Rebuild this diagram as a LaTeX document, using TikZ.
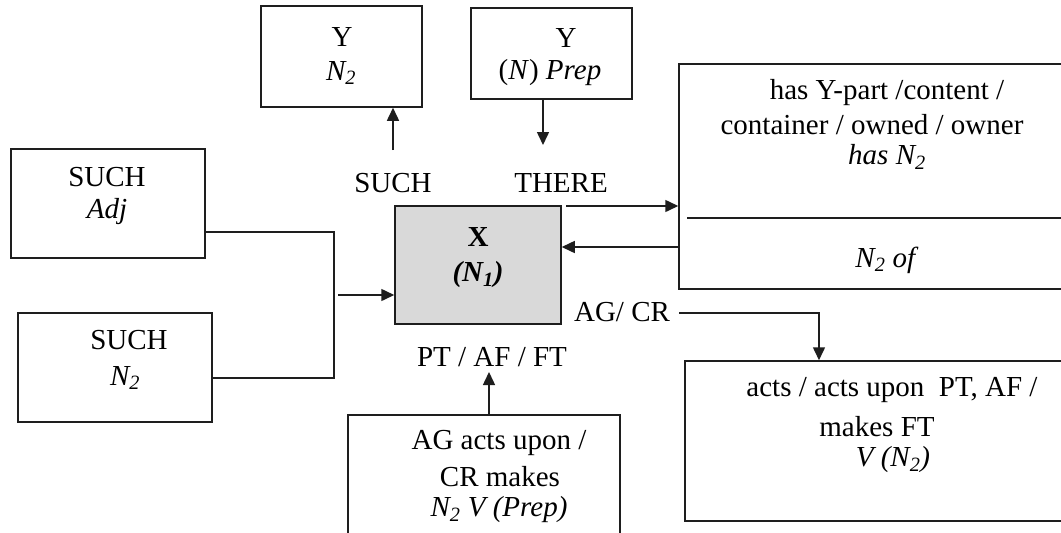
\documentclass[tikz,border=0pt]{standalone}
\usepackage{fontspec}
\setmainfont{Liberation Serif}
\usetikzlibrary{arrows.meta}
\definecolor{xgray}{RGB}{217,217,217}
\definecolor{ln}{RGB}{30,30,30}
\tikzset{
  box/.style={draw=ln, line width=1.5pt, rectangle, inner sep=0pt},
  txt/.style={inner sep=0pt, font=\fontsize{29}{33}\selectfont, text=black, anchor=center},
  arr/.style={draw=ln, line width=1.5pt, -{Triangle[length=13pt,width=12pt]}},
  ln/.style={draw=ln, line width=1.5pt}
}
\begin{document}
\begin{tikzpicture}[x=1pt,y=-1pt]
\useasboundingbox (0,0) rectangle (1061,533);
\clip (0,0) rectangle (1061,533);
\fill[white] (0,0) rectangle (1061,533);

% boxes
\node[box, minimum width=161pt, minimum height=101pt] (yn2box) at (341.5,56.5) {};
\node[box, minimum width=161pt, minimum height=91pt] (yprepbox) at (551.5,53.5) {};
\node[box, minimum width=391pt, minimum height=225pt] (rbox) at (874.5,176.5) {};
\node[box, fill=xgray, minimum width=166pt, minimum height=118pt] (xbox) at (478,265) {};
\node[box, minimum width=194pt, minimum height=109pt] (adjbox) at (108,203.5) {};
\node[box, minimum width=194pt, minimum height=109pt] (sn2box) at (115,367.5) {};
\node[box, minimum width=272pt, minimum height=130pt] (botbox) at (484,480) {};
\node[box, minimum width=385pt, minimum height=160pt] (brbox) at (877.5,441) {};

% divider in right box
\coordinate (dv1) at (687,218);
\draw[ln] (dv1) -- (dv1 -| rbox.east);

% texts
\node[txt] (t1) at (342,37) {Y};
\node[txt] (t2) at (341,73) {\textit{N\textsubscript{2}}};
\node[txt] (t3) at (566,38) {Y};
\node[txt] (t4) at (550,73) {(\textit{N}) \textit{Prep}};
\node[txt] (t5) at (887,93) {has Y-part /content /};
\node[txt] (t6) at (872,125) {container / owned / owner};
\node[txt] (t7) at (887,157) {\textit{has N\textsubscript{2}}};
\node[txt] (t8) at (887,260) {\textit{N\textsubscript{2} of}};
\node[txt] (t9) at (478,237) {\textbf{X}};
\node[txt] (t10) at (478,275) {\textbf{\textit{(N\textsubscript{1})}}};
\node[txt] (t11) at (107,177) {SUCH};
\node[txt] (t12) at (107,212) {\textit{Adj}};
\node[txt] (t13) at (129,340) {SUCH};
\node[txt] (t14) at (125,378) {\textit{N\textsubscript{2}}};
\node[txt] (such) at (393,183) {SUCH};
\node[txt] (there) at (561,183) {THERE};
\node[txt] (agcr) at (622,312) {AG/ CR};
\node[txt] (ptaf) at (492,357) {PT / AF / FT};
\node[txt] (t15) at (499,443) {AG acts upon /};
\node[txt] (t16) at (500,477) {CR makes};
\node[txt] (t17) at (499,510) {\textit{N\textsubscript{2} V (Prep)}};
\node[txt] (t18) at (892,390) {acts / acts upon\ \ PT, AF /};
\node[txt] (t19) at (877,427) {makes FT};
\node[txt] (t20) at (893,460) {\textit{V (N\textsubscript{2})}};

% connectors
\coordinate (j1) at (334,232);
\coordinate (j2) at (334,378);
\draw[ln] (adjbox.east |- j1) -- (j1) -- (j2) -- (sn2box.east |- j2);
\coordinate (j3) at (338,295);
\draw[arr] (j3) -- (xbox.west |- j3);

\coordinate (a1) at (393,150);
\draw[arr] (a1) -- (a1 |- yn2box.south);
\coordinate (a2) at (543,145);
\draw[arr] (a2 |- yprepbox.south) -- (a2);
\coordinate (a3) at (566,206);
\draw[arr] (a3) -- (a3 -| rbox.west);
\coordinate (a4) at (679,247);
\draw[arr] (rbox.west |- a4) -- (xbox.east |- a4);
\coordinate (a5) at (679,313);
\coordinate (a6) at (819,313);
\draw[arr] (a5) -- (a6) -- (a6 |- brbox.north);
\coordinate (a7) at (489,372);
\draw[arr] (a7 |- botbox.north) -- (a7);
\end{tikzpicture}
\end{document}
